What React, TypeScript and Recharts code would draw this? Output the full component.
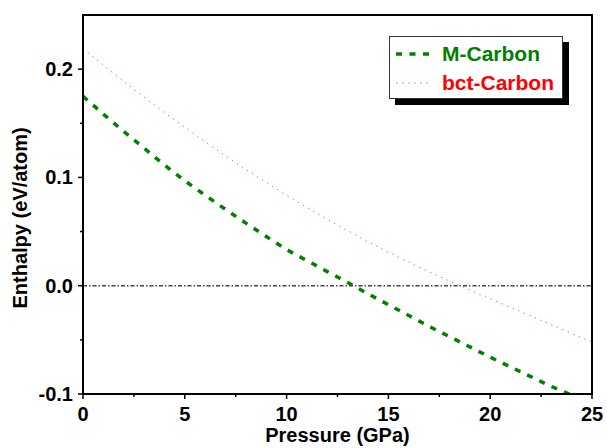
import { LineChart, Line, XAxis, YAxis, ReferenceLine, ReferenceArea } from 'recharts';

const pressure = [0, 1, 2, 3, 4, 5, 6, 7, 8, 9, 10, 11, 12, 13, 14, 15, 16, 17, 18, 19, 20, 21, 22, 23, 24, 25];
const mCarbon = [
  0.175, 0.1585, 0.1425, 0.127, 0.1115, 0.097, 0.0836, 0.0705, 0.0578, 0.0455,
  0.0335, 0.0232, 0.013, 0.003, -0.0075, -0.0175, -0.0275, -0.0375, -0.047, -0.0565,
  -0.066, -0.075, -0.084, -0.093, -0.101, null,
];
const bctCarbon = [
  0.219, 0.2036, 0.1887, 0.1742, 0.16, 0.1463, 0.133, 0.12, 0.1074, 0.0953,
  0.0836, 0.0723, 0.0613, 0.0508, 0.0407, 0.031, 0.0217, 0.0128, 0.0043, -0.004,
  -0.0121, -0.0201, -0.028, -0.036, -0.044, -0.052,
];
const xTicks = [0, 2.5, 5, 7.5, 10, 12.5, 15, 17.5, 20, 22.5, 25];
const yTicks = [-0.1, -0.05, 0, 0.05, 0.1, 0.15, 0.2];

const data = pressure.map((p, i) => ({ p, m: mCarbon[i], bct: bctCarbon[i] }));

const FONT = 'Arial, "Liberation Sans", sans-serif';

function XTick({ x, y, payload }: any) {
  const v = payload.value;
  const major = v % 5 === 0;
  return (
    <g>
      <line x1={x} x2={x} y1={y} y2={y + (major ? 5 : 3)} stroke="#000" strokeWidth={1.5} />
      {major && (
        <text x={x} y={y + 27} textAnchor="middle" fontFamily={FONT} fontWeight="bold" fontSize={20} fill="#000">
          {v}
        </text>
      )}
    </g>
  );
}

function YTick({ x, y, payload }: any) {
  const v = payload.value;
  const major = Math.abs(v * 10 - Math.round(v * 10)) < 1e-6;
  return (
    <g>
      <line x1={x} x2={x - (major ? 5 : 3)} y1={y} y2={y} stroke="#000" strokeWidth={1.5} />
      {major && (
        <text x={x - 10} y={y + 7} textAnchor="end" fontFamily={FONT} fontWeight="bold" fontSize={20} fill="#000">
          {v.toFixed(1)}
        </text>
      )}
    </g>
  );
}

function LegendBox() {
  const row = { display: 'flex', alignItems: 'center', height: 29 };
  const txt = { fontFamily: FONT, fontWeight: 'bold' as const, fontSize: 21, marginLeft: 12 };
  return (
    <div style={{
      position: 'absolute', left: 389, top: 36,
      width: 166, height: 59, background: '#fff', border: '1px solid #333',
      boxShadow: '6px 6px 0 #000', padding: '2px 0 0 6px', boxSizing: 'content-box',
    }}>
      <div style={row}>
        <svg width={34} height={6}>
          <line x1={0} x2={34} y1={3} y2={3} stroke="#008000" strokeWidth={3.5} strokeDasharray="6 7.5" />
        </svg>
        <span style={{ ...txt, color: '#008000' }}>M-Carbon</span>
      </div>
      <div style={row}>
        <svg width={34} height={6}>
          <line x1={0} x2={34} y1={3} y2={3} stroke="#ff6a6a" strokeWidth={1} strokeDasharray="1.5 4.5" />
        </svg>
        <span style={{ ...txt, color: '#ff0000' }}>bct-Carbon</span>
      </div>
    </div>
  );
}

export default function App() {
  return (
    <div style={{ position: 'absolute', left: 0, top: 0, width: 607, height: 448, background: '#fff' }}>
      <LineChart width={607} height={448} data={data} margin={{ top: 15, right: 15, bottom: 0, left: 0 }}>
        <XAxis
          dataKey="p" type="number" domain={[0, 25]} ticks={xTicks} height={54}
          axisLine={{ stroke: '#000', strokeWidth: 2 }} tickLine={false} tickSize={0} tickMargin={0}
          tick={<XTick />} interval={0}
          label={{ value: 'Pressure (GPa)', position: 'insideBottom', offset: 6, fontFamily: FONT, fontWeight: 'bold', fontSize: 20, fill: '#000' }}
        />
        <YAxis
          type="number" domain={[-0.1, 0.25]} ticks={yTicks} width={83} allowDataOverflow
          axisLine={{ stroke: '#000', strokeWidth: 2 }} tickLine={false} tickSize={0} tickMargin={0}
          tick={<YTick />} interval={0}
          label={{ value: 'Enthalpy (eV/atom)', angle: -90, position: 'insideLeft', offset: 20, dy: 104, fontFamily: FONT, fontWeight: 'bold', fontSize: 20, fill: '#000' }}
        />
        <ReferenceArea x1={0} x2={25} y1={-0.1} y2={0.25} fill="none" stroke="#000" strokeWidth={2} ifOverflow="visible" />
        <ReferenceLine y={0} stroke="#444" strokeWidth={1.5} strokeDasharray="4 2 1.5 2" />
        <Line
          dataKey="bct" type="monotone" stroke="#ff6a6a" strokeWidth={1} strokeDasharray="1.5 4.5"
          dot={false} isAnimationActive={false}
        />
        <Line
          dataKey="m" type="monotone" stroke="#008000" strokeWidth={3.5} strokeDasharray="6 7.5"
          dot={false} isAnimationActive={false}
        />
      </LineChart>
      <LegendBox />
    </div>
  );
}
